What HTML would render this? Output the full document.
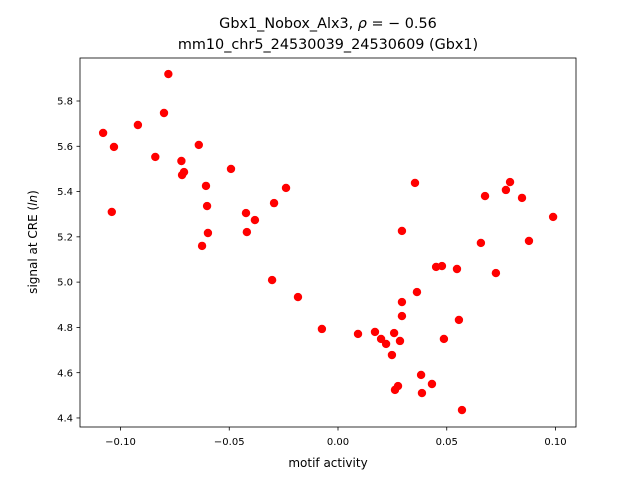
<!DOCTYPE html>
<html><head><meta charset="utf-8"><style>
body{margin:0;background:#fff;}
svg{display:block;font-family:"DejaVu Sans","Liberation Sans",sans-serif;}
</style></head><body>
<svg id="chart" width="640" height="480" xmlns="http://www.w3.org/2000/svg">
<text x="328" y="28" font-size="14.4" text-anchor="middle">Gbx1_Nobox_Alx3, <tspan font-style="italic">ρ</tspan> = − 0.56</text>
<text x="328" y="49" font-size="14.4" text-anchor="middle">mm10_chr5_24530039_24530609 (Gbx1)</text>
<g id="points"></g>
<rect x="80" y="58" width="496" height="369" fill="none" stroke="#000" stroke-width="0.8"/>
<g id="xticks"></g>
<g id="yticks"></g>
<text x="328" y="467" font-size="12" text-anchor="middle">motif activity</text>
<text transform="translate(37,242) rotate(-90)" font-size="12" text-anchor="middle">signal at CRE (<tspan font-style="italic">ln</tspan>)</text>
</svg>
<script>
const xValues=[-0.108,-0.103,-0.104,-0.092,-0.084,-0.080,-0.078,-0.072,-0.0717,-0.0708,-0.064,-0.0607,-0.0602,-0.0598,-0.0625,-0.0492,-0.0423,-0.0419,-0.0382,-0.0294,-0.0303,-0.0239,-0.0184,-0.0074,0.0092,0.0170,0.0198,0.0221,0.0248,0.0258,0.0285,0.0262,0.0276,0.0294,0.0294,0.0294,0.0354,0.0363,0.0382,0.0386,0.0432,0.0451,0.0478,0.0487,0.0547,0.0556,0.0570,0.0657,0.0676,0.0726,0.0772,0.0791,0.0846,0.0878,0.0989];
const yValues=[5.659,5.597,5.310,5.694,5.553,5.747,5.919,5.535,5.473,5.486,5.606,5.425,5.336,5.217,5.160,5.500,5.305,5.221,5.274,5.349,5.009,5.416,4.934,4.793,4.771,4.780,4.749,4.727,4.678,4.775,4.740,4.524,4.541,4.912,4.850,5.226,5.438,4.956,4.590,4.510,4.550,5.067,5.071,4.749,5.058,4.833,4.435,5.173,5.380,5.040,5.407,5.442,5.372,5.182,5.288];
const xTicks=[-0.10,-0.05,0.00,0.05,0.10];
const xTickLabels=["−0.10","−0.05","0.00","0.05","0.10"];
const yTicks=[4.4,4.6,4.8,5.0,5.2,5.4,5.6,5.8];
const yTickLabels=["4.4","4.6","4.8","5.0","5.2","5.4","5.6","5.8"];
const NS="http://www.w3.org/2000/svg";
const xs=v=>338+v*2175;
const ys=v=>101+(5.8-v)*226.4;
function mk(tag,attrs,parent){const e=document.createElementNS(NS,tag);for(const k in attrs)e.setAttribute(k,attrs[k]);parent.appendChild(e);return e;}
const pg=document.getElementById('points');
xValues.forEach((x,i)=>{const c=mk('circle',{cx:xs(x),cy:ys(yValues[i]),r:4.2,fill:'#ff0000'},pg);

});
const xg=document.getElementById('xticks');
xTicks.forEach((t,i)=>{const x=xs(t);
const l=mk('line',{x1:x,x2:x,y1:427,y2:430.5,stroke:'#000','stroke-width':0.8},xg);


const tx=mk('text',{x:x,y:445,'font-size':10,'text-anchor':'middle'},xg);tx.textContent=xTickLabels[i];

});
const yg=document.getElementById('yticks');
yTicks.forEach((t,i)=>{const y=ys(t);
const l=mk('line',{x1:76.5,x2:80,y1:y,y2:y,stroke:'#000','stroke-width':0.8},yg);


const tx=mk('text',{x:73,y:y+3.6,'font-size':10,'text-anchor':'end'},yg);tx.textContent=yTickLabels[i];

});
</script>
</body></html>
